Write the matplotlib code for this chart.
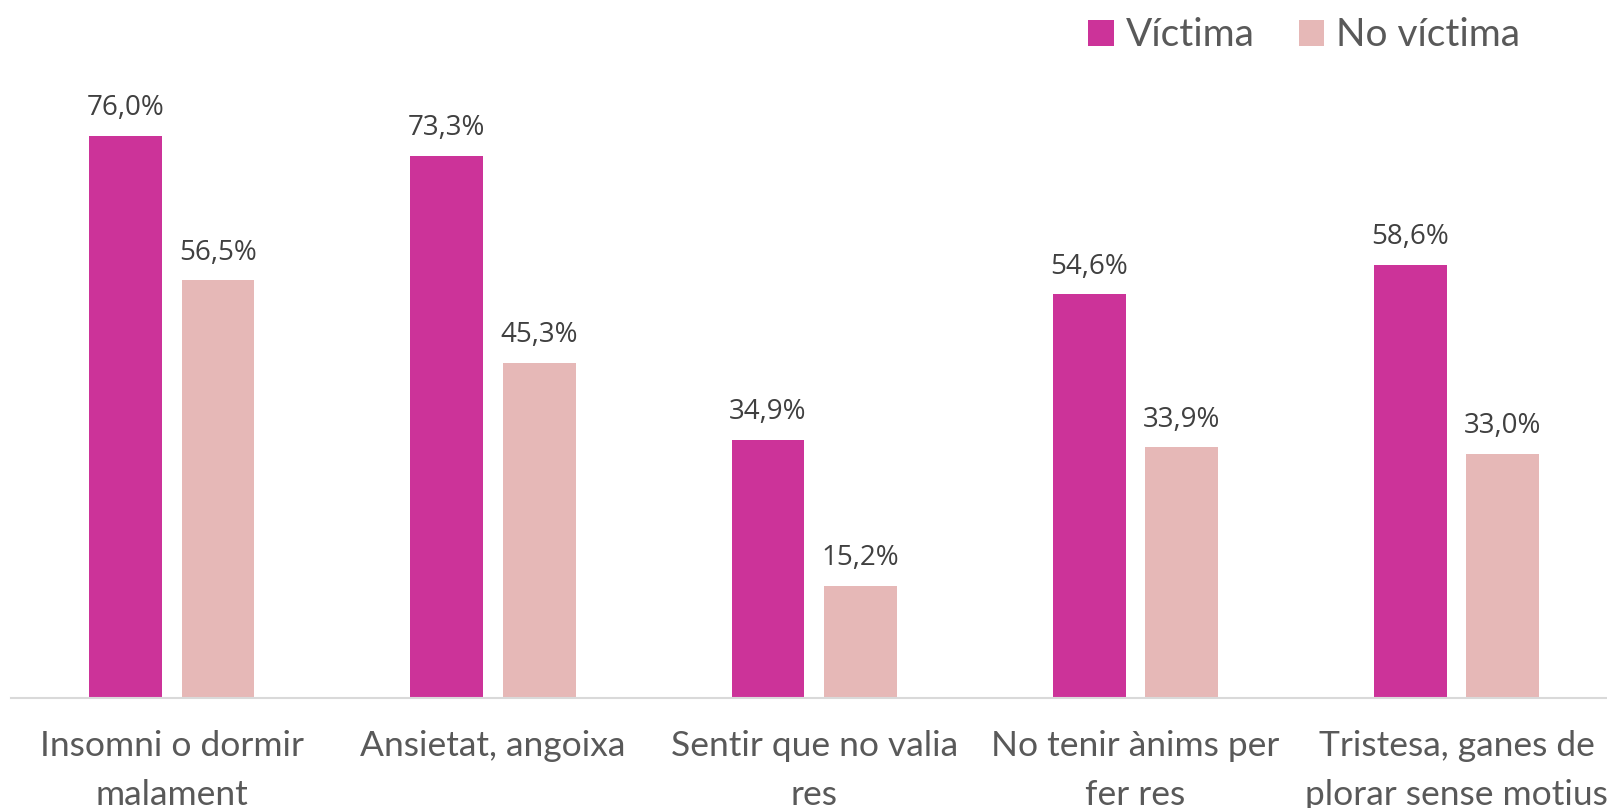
import numpy as np
import matplotlib.pyplot as plt

# dades
categories = ["Insomni o dormir\nmalament", "Ansietat, angoixa",
              "Sentir que no valia\nres", "No tenir ànims per\nfer res",
              "Tristesa, ganes de\nplorar sense motius"]
victima = [76.0, 73.3, 34.9, 54.6, 58.6]
no_victima = [56.5, 45.3, 15.2, 33.9, 33.0]
series_names = ["Víctima", "No víctima"]

col_v = "#CC3399"
col_nv = "#E6B8B7"

fig = plt.figure(figsize=(16.08, 8.08), dpi=100)
ax = fig.add_axes([11.2 / 1608, 0.136, 1606 / 1608, 0.732])

x = np.arange(len(categories))
w = 0.2266
off = w / 2 + 0.0304

b1 = ax.bar(x - off, victima, w, color=col_v, label=series_names[0])
b2 = ax.bar(x + off, no_victima, w, color=col_nv, label=series_names[1])

for bars, vals in [(b1, victima), (b2, no_victima)]:
    for rect, v in zip(bars, vals):
        ax.annotate(f"{v:.1f}%".replace(".", ","),
                    (rect.get_x() + rect.get_width() / 2, v),
                    xytext=(0, 10), textcoords="offset points",
                    ha="center", va="bottom", fontsize=20,
                    family="Open Sans", color="#404040")

ax.set_xlim(-0.5, len(categories) - 0.5)
ax.set_ylim(0, 80)
ax.set_xticks(x)
ax.set_xticklabels(categories, fontsize=25.5, family="Lato", color="#595959",
                   linespacing=1.65)
ax.tick_params(axis="x", length=0, pad=23)
ax.set_yticks([])
for s in ["top", "right", "left"]:
    ax.spines[s].set_visible(False)
ax.spines["bottom"].set_color("#D9D9D9")
ax.spines["bottom"].set_linewidth(1.5)

leg = fig.legend(loc="upper right", bbox_to_anchor=(0.967, 1.022), ncol=2,
                 frameon=False, prop={"family": "Lato", "size": 28},
                 handlelength=0.65, handleheight=0.65, handletextpad=0.3,
                 columnspacing=1.15)
for t in leg.get_texts():
    t.set_color("#595959")

fig.savefig("out.png", dpi=100)
